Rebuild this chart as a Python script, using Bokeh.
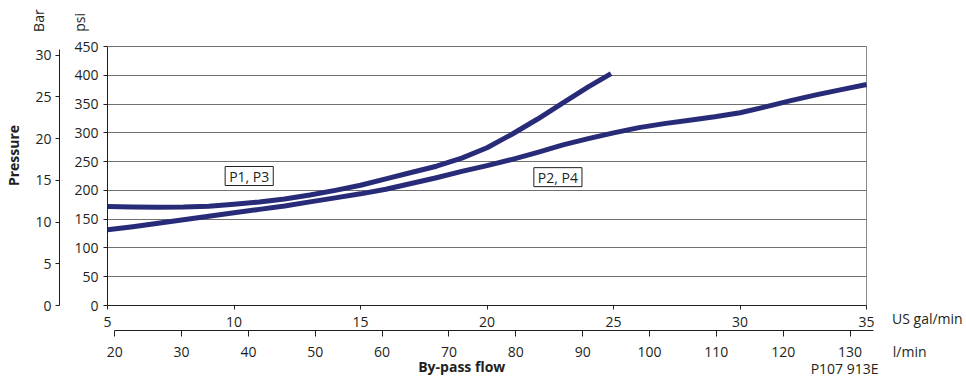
from bokeh.plotting import figure
from bokeh.models import (Range1d, LinearAxis, FixedTicker, Label)
from bokeh.embed import file_html
from bokeh.resources import INLINE

# ---- data ----
p13_gpm = [5, 6, 7, 8, 9, 10, 11, 12, 13, 14, 15, 16, 17, 18, 19, 20, 21, 22, 23, 24, 24.9]
p13_psi = [172, 171, 170.5, 171, 172.5, 176, 180, 185, 192, 200, 209, 220, 231, 242, 256, 274, 298, 324, 352, 380, 403]

p24_gpm = [5, 6, 7, 8, 9, 10, 11, 12, 13, 14, 15, 16, 17, 18, 19, 20, 21, 22, 23, 24, 25,
           26, 27, 28, 29, 30, 31, 32, 33, 34, 35]
p24_psi = [131.5, 137, 143, 149, 155, 161, 167, 173, 180, 187, 194, 202, 212, 222, 233, 243, 254, 266, 279, 290, 300,
           309, 316, 322, 328, 335, 345, 356, 366, 375, 384]

gpm_ticks = [5, 10, 15, 20, 25, 30, 35]
lpm_ticks = [20, 30, 40, 50, 60, 70, 80, 90, 100, 110, 120, 130]
psi_ticks = [0, 50, 100, 150, 200, 250, 300, 350, 400, 450]
bar_ticks = [0, 5, 10, 15, 20, 25, 30]

series_labels = ["P1, P3", "P2, P4"]
label_pos_gpm = [10.6, 22.8]
label_pos_psi = [225, 223]

L_PER_GAL = 3.785
PSI_PER_BAR = 14.5038

FONT = "Open Sans"
NAVY = "#282c78"
TXT = "#231f20"
GRID = "#707070"

W, H = 966, 380
# chart area: gpm 5..35 over x 106..866, psi 0..450 over y 305..46;
# the frame is stretched (right to the edge, up to y=5) so that texts there can be placed
X0, X1 = gpm_ticks[0], gpm_ticks[-1]
Y0, Y1 = psi_ticks[0], psi_ticks[-1]
X_END = X0 + (X1 - X0) * (966 - 106) / (866 - 106)
Y_END = Y1 * (305 - 5) / (305 - 46)

p = figure(width=W, height=H, output_backend="svg", toolbar_location=None,
           x_range=Range1d(X0, X_END), y_range=Range1d(Y0, Y_END),
           min_border_left=106, min_border_right=0, min_border_top=5, min_border_bottom=75)
p.extra_x_ranges = {"lpm": Range1d(X0 * L_PER_GAL, X_END * L_PER_GAL)}
p.extra_y_ranges = {"bar": Range1d(0, Y_END / PSI_PER_BAR)}

p.outline_line_color = None
p.background_fill_color = "white"
p.border_fill_color = "white"

# grid: horizontal lines at the psi ticks, one vertical line closing the chart at 35 gpm
p.ygrid.ticker = FixedTicker(ticks=psi_ticks)
p.ygrid.grid_line_color = GRID
p.ygrid.grid_line_width = 1
p.xgrid.ticker = FixedTicker(ticks=[X1])
p.xgrid.grid_line_color = "#8a8a8a"
p.xgrid.grid_line_width = 1
try:
    p.ygrid.cross_bounds = (X0, X1)
    p.xgrid.cross_bounds = (Y0, Y1)
except Exception:
    p.ygrid.visible = False
    p.xgrid.visible = False
    n = len(psi_ticks)
    p.segment(x0=[X0] * n, x1=[X1] * n, y0=psi_ticks, y1=psi_ticks,
              line_color=GRID, line_width=1, level="underlay")
    p.segment(x0=[X1], x1=[X1], y0=[Y0], y1=[Y1], line_color="#8a8a8a",
              line_width=1, level="underlay")


def style_axis(ax, tick_out, standoff):
    ax.axis_line_color = TXT
    ax.axis_line_width = 1
    ax.major_tick_line_color = TXT
    ax.major_tick_out = tick_out
    ax.major_tick_in = 0
    ax.minor_tick_line_color = None
    ax.major_label_text_font = FONT
    ax.major_label_text_font_size = "14px"
    ax.major_label_text_color = TXT
    ax.major_label_standoff = standoff


def bare_axis(**kw):
    ax = LinearAxis(**kw)
    ax.axis_line_color = None
    ax.major_tick_line_color = None
    ax.minor_tick_line_color = None
    ax.major_tick_out = 0
    ax.major_tick_in = 0
    ax.major_label_text_font = FONT
    ax.major_label_text_font_size = "14px"
    ax.major_label_text_color = TXT
    ax.axis_label_text_font = FONT
    ax.axis_label_text_font_size = "14px"
    ax.axis_label_text_color = TXT
    return ax


def tick_text_axis(ticks, texts, bounds, standoff, style="normal", orientation="horizontal"):
    """Axis without line/marks whose tick labels are plain texts."""
    ax = bare_axis(ticker=FixedTicker(ticks=ticks), bounds=bounds,
                   major_label_overrides={t: s for t, s in zip(ticks, texts)})
    ax.major_label_standoff = standoff
    ax.major_label_text_font_style = style
    ax.major_label_orientation = orientation
    return ax


def spacer(size, tick):
    return LinearAxis(ticker=FixedTicker(ticks=[tick]), bounds=(tick - 1, tick + 1),
                      axis_line_color=None, major_tick_out=size, major_tick_in=0,
                      major_label_standoff=0, minor_tick_line_color=None,
                      major_tick_line_color=None, major_label_text_font_size="1px",
                      major_label_text_color=None, major_label_overrides={tick: ""})


# ---- left side: psi axis, "psi", spacer, Bar axis, "Bar", "Pressure" ----
yax = p.yaxis[0]
yax.ticker = FixedTicker(ticks=psi_ticks)
yax.bounds = (Y0, Y1)
style_axis(yax, 4, 5)

p.add_layout(tick_text_axis([492], ["psi"], (490, 494), -18, orientation="vertical"), "left")
p.add_layout(spacer(8, 225), "left")

bax = LinearAxis(y_range_name="bar", ticker=FixedTicker(ticks=bar_ticks), bounds=(0, 30.7))
style_axis(bax, 4, 4)
p.add_layout(bax, "left")

p.add_layout(tick_text_axis([495], ["Bar"], (493, 497), -16, orientation="vertical"), "left")

pax = bare_axis(ticker=FixedTicker(ticks=[]), bounds=(0, 427), axis_label="Pressure")
pax.axis_label_standoff = 4
pax.axis_label_text_font_style = "bold"
p.add_layout(pax, "left")

# ---- bottom: gpm axis + unit, l/min axis + unit, "By-pass flow", "P107 913E" ----
xax = p.xaxis[0]
xax.ticker = FixedTicker(ticks=gpm_ticks)
xax.bounds = (X0, X1)
style_axis(xax, 4, 7)

p.add_layout(tick_text_axis([37.4], ["US gal/min"], (37.3, 37.5), -21), "below")

lax = LinearAxis(x_range_name="lpm", ticker=FixedTicker(ticks=lpm_ticks), bounds=(20, 133.5))
style_axis(lax, 6, 10)
p.add_layout(lax, "below")

p.add_layout(tick_text_axis([36.7], ["l/min"], (36.6, 36.8), -18), "below")
p.add_layout(tick_text_axis([19], ["By-pass flow"], (18.5, 19.5), -7, style="bold"), "below")
p.add_layout(tick_text_axis([34.13], ["P107 913E"], (33.6, 34.6), -20), "below")

# curves
p.line(p13_gpm, p13_psi, line_color=NAVY, line_width=5, line_join="round")
p.line(p24_gpm, p24_psi, line_color=NAVY, line_width=5, line_join="round")

# series labels in boxes
for txt, gx, gy in zip(series_labels, label_pos_gpm, label_pos_psi):
    p.add_layout(Label(x=gx, y=gy, text=txt, text_font=FONT, text_font_size="14px",
                       text_color=TXT, text_align="center", text_baseline="middle",
                       background_fill_color="white", border_line_color=TXT,
                       border_line_width=1, padding=dict(x=4, y=0)))

open("out.html", "w").write(file_html(p, INLINE))
